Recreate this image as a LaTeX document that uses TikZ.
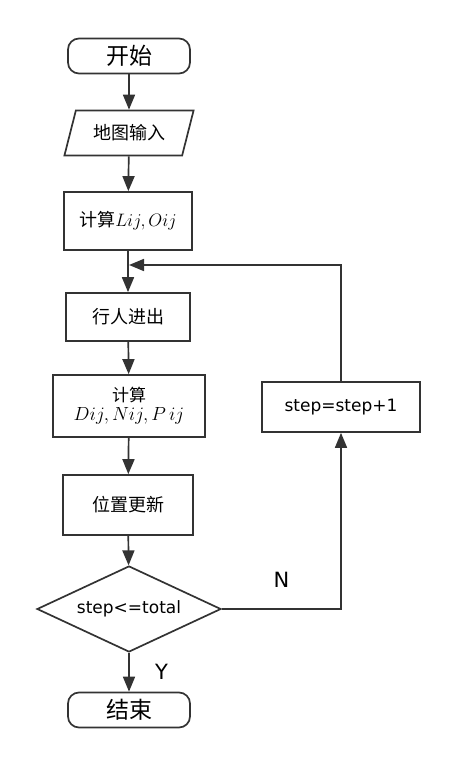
\RequirePackage{fix-cm}
\documentclass[tikz,border=0pt]{standalone}
\usepackage{fontspec}
\setmainfont{Noto Sans CJK SC}
\newfontfamily\latinfont{DejaVu Sans}
\usetikzlibrary{shapes.geometric,arrows.meta}

\begin{document}
\begin{tikzpicture}[x=1pt, y=-1pt, line width=1.7pt, draw=black!80,
  box/.style={draw=black!80, rectangle, minimum width=128pt, minimum height=56pt, font=\fontsize{18}{20}\selectfont},
  term/.style={draw=black!80, rectangle, rounded corners=11pt, minimum width=122pt, minimum height=35pt, font=\fontsize{23}{24}\selectfont},
  io/.style={draw=black!80, trapezium, trapezium left angle=70, trapezium right angle=110, trapezium stretches=true, minimum width=130pt, minimum height=45pt, font=\fontsize{18}{20}\selectfont},
  test/.style={draw=black!80, diamond, aspect=2.15, minimum width=184pt, minimum height=86pt, inner sep=0pt, font=\latinfont\fontsize{17}{18}\selectfont},
  lbl/.style={font=\latinfont\fontsize{21}{22}\selectfont},
  arr/.style={-{Triangle[length=15pt,width=12pt]}, draw=black!80}]
\useasboundingbox (0,0) rectangle (456,765);
\node[term] (start) at (129,56) {开始};
\node[io] (input) at (129,133) {地图输入};
\node[box, minimum height=58pt] (calclo) at (128,221) {计算$Lij, Oij$};
\node[box, minimum width=152pt, minimum height=62pt, align=center, inner ysep=1pt, font=\fontsize{17}{20}\selectfont] (calcdnp) at (129,406) {计算\\[-1pt] {\fontsize{19}{20}\selectfont $Dij, Nij, P\,ij$}};
\node[box, minimum width=124pt, minimum height=48pt] (move) at (128,317) {行人进出};
\node[box, minimum width=130pt, minimum height=60pt] (update) at (128,505) {位置更新};
\node[test] (check) at (129,609) {step<=total};
\node[term] (stop) at (129,710) {结束};
\node[box, minimum width=158pt, minimum height=50pt, font=\latinfont\fontsize{17}{18}\selectfont] (incr) at (341,407) {step=step+1};
\coordinate (merge) at (129,265);
\draw[arr] (start) -- (input);
\draw[arr] (input) -- (calclo);
\draw[arr] (calclo) -- (move);
\draw[arr] (move) -- (calcdnp);
\draw[arr] (calcdnp) -- (update);
\draw[arr] (update) -- (check);
\draw[arr] (check) -- node[lbl, right=22pt, pos=0.5] {Y} (stop);
\draw[arr] (check.east) -| node[lbl, pos=0.25, above=17pt] {N} (incr.south);
\draw[arr] (incr.north) |- (merge);
\end{tikzpicture}
\end{document}
